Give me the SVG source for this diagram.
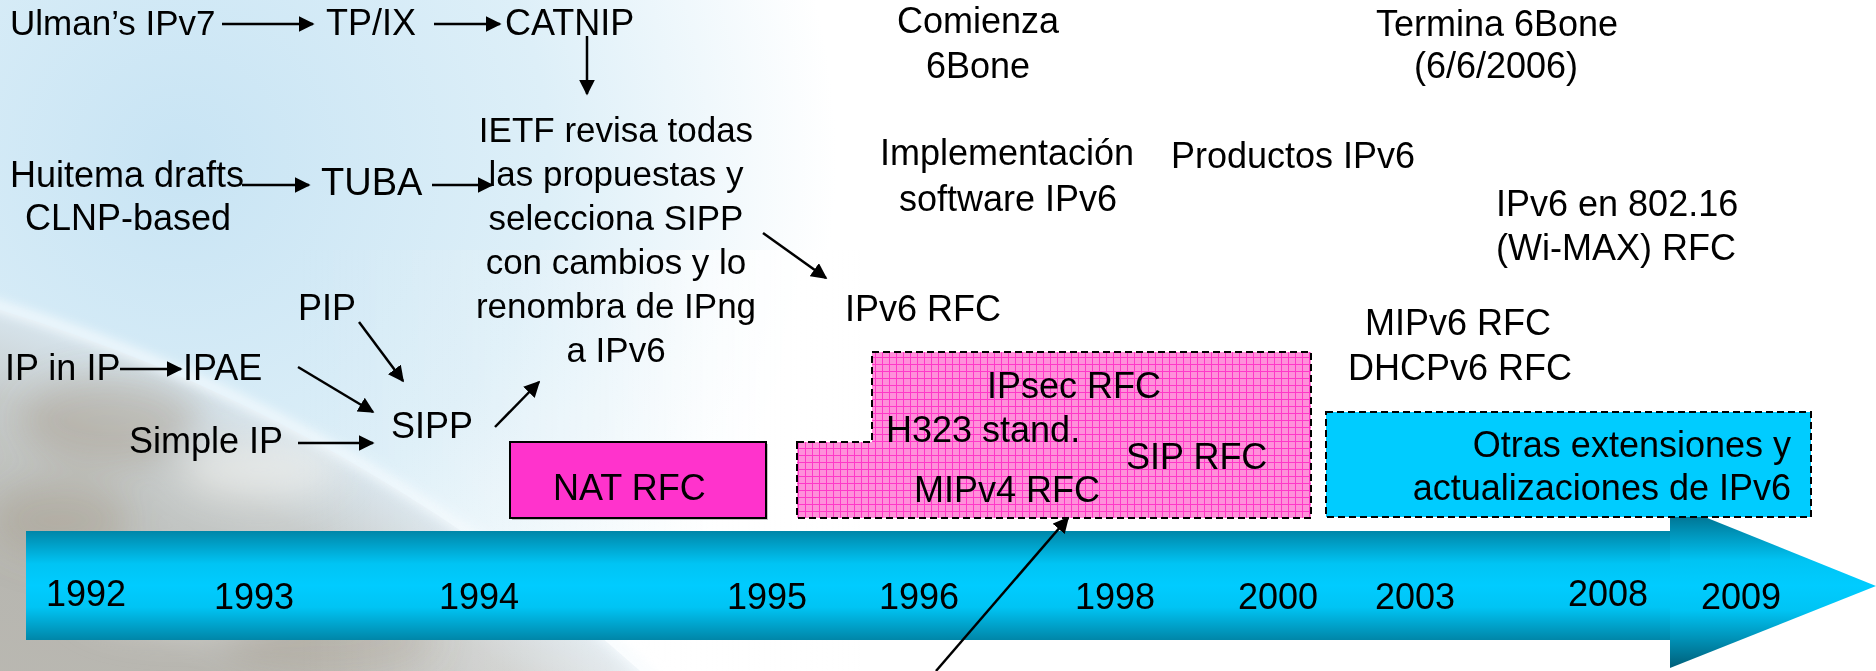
<svg xmlns="http://www.w3.org/2000/svg" width="1876" height="671" viewBox="0 0 1876 671">
<defs>
<style>
text{font-family:"Liberation Sans",Arial,sans-serif;font-size:36px;fill:#000}
.sm{font-size:35px}
.mid{text-anchor:middle}
.end{text-anchor:end}
.con{stroke:#000;stroke-width:2.5;fill:none;marker-end:url(#ah)}
.dash{stroke:#000;stroke-width:2;stroke-dasharray:7 4}
</style>
<marker id="ah" viewBox="0 0 10 10" refX="9" refY="5" markerWidth="16" markerHeight="16" markerUnits="userSpaceOnUse" orient="auto">
<path d="M0 0L10 5L0 10Z" fill="#000"/>
</marker>
<pattern id="grid" width="7" height="7" patternUnits="userSpaceOnUse">
<rect width="7" height="7" fill="#FF90DA"/>
<path d="M0 0.5H7M0.5 0V7" stroke="#FF38C8" stroke-width="1"/>
</pattern>
<linearGradient id="body" x1="0" y1="0" x2="0" y2="1">
<stop offset="0" stop-color="#0086A8"/>
<stop offset="0.3" stop-color="#00C4F4"/>
<stop offset="0.5" stop-color="#00CCFF"/>
<stop offset="0.7" stop-color="#00C4F4"/>
<stop offset="1" stop-color="#0086A8"/>
</linearGradient>
<linearGradient id="head" x1="0" y1="0" x2="0" y2="1">
<stop offset="0" stop-color="#005E78"/>
<stop offset="0.35" stop-color="#00C4F4"/>
<stop offset="0.5" stop-color="#00CCFF"/>
<stop offset="0.65" stop-color="#00C4F4"/>
<stop offset="1" stop-color="#005E78"/>
</linearGradient>
<radialGradient id="sky" cx="180" cy="160" r="820" gradientUnits="userSpaceOnUse">
<stop offset="0" stop-color="#C8E4F4"/>
<stop offset="0.45" stop-color="#DDEFF8"/>
<stop offset="0.8" stop-color="#FFFFFF"/>
<stop offset="1" stop-color="#FFFFFF"/>
</radialGradient>
<radialGradient id="earth" cx="-500" cy="1944" r="1709" gradientUnits="userSpaceOnUse">
<stop offset="0.85" stop-color="#ABA79E"/>
<stop offset="0.95" stop-color="#C2C3C0"/>
<stop offset="1" stop-color="#D8E4EC"/>
</radialGradient>
<linearGradient id="fade" x1="0" y1="0" x2="1" y2="0">
<stop offset="0" stop-color="#FFFFFF" stop-opacity="0"/>
<stop offset="0.55" stop-color="#FFFFFF" stop-opacity="0.2"/>
<stop offset="1" stop-color="#FFFFFF" stop-opacity="1"/>
</linearGradient>
<filter id="blur" x="-20%" y="-20%" width="140%" height="140%"><feGaussianBlur stdDeviation="6"/></filter>
<filter id="soft" x="-50%" y="-50%" width="200%" height="200%"><feGaussianBlur stdDeviation="18"/></filter>
<clipPath id="earthclip"><circle cx="-500" cy="1944" r="1709"/></clipPath>
</defs>

<g id="background">
<rect width="1876" height="671" fill="#FFFFFF"/>
<rect width="1000" height="671" fill="url(#sky)"/>
<circle cx="-500" cy="1944" r="1709" fill="url(#earth)" opacity="0.8"/>
<g clip-path="url(#earthclip)" filter="url(#soft)">
<ellipse cx="110" cy="420" rx="90" ry="45" fill="#8C7558" opacity="0.25"/>
<ellipse cx="60" cy="520" rx="70" ry="40" fill="#8C7558" opacity="0.22"/>
<ellipse cx="260" cy="470" rx="80" ry="30" fill="#F2F2EE" opacity="0.6"/>
<ellipse cx="330" cy="640" rx="110" ry="35" fill="#8C7558" opacity="0.2"/>
<ellipse cx="180" cy="600" rx="100" ry="30" fill="#EEEEEA" opacity="0.5"/>
</g>
<circle cx="-500" cy="1944" r="1712" fill="none" stroke="#F4FAFD" stroke-width="10" filter="url(#blur)"/>
<rect x="300" y="250" width="560" height="421" fill="url(#fade)"/>
</g>

<g id="timeline">
<rect x="26" y="531" width="1644" height="109" fill="url(#body)"/>
<path d="M1670 503L1876 586L1670 668Z" fill="url(#head)"/>
</g>

<g id="node-nat">
<rect x="512" y="444" width="256" height="76" fill="#888" opacity="0.5"/>
<rect x="510" y="442" width="256" height="76" fill="#FF33CC" stroke="#000" stroke-width="2"/>
<text x="553" y="500">NAT RFC</text>
</g>

<g id="node-pink">
<path d="M797 442H872V352H1311V518H797Z" fill="url(#grid)" class="dash"/>
<text x="987" y="398">IPsec RFC</text>
<text x="886" y="442">H323 stand.</text>
<text x="1126" y="469">SIP RFC</text>
<text x="914" y="502">MIPv4 RFC</text>
</g>

<g id="node-otras">
<rect x="1326" y="412" width="485" height="105" fill="#00CCFF" class="dash"/>
<text class="end" x="1791" y="457">Otras extensiones y</text>
<text class="end" x="1791" y="500">actualizaciones de IPv6</text>
</g>

<g id="node-ulman"><text class="sm" x="10" y="35">Ulman’s IPv7</text></g>
<g id="node-tpix"><text x="326" y="35">TP/IX</text></g>
<g id="node-catnip"><text x="505" y="35">CATNIP</text></g>
<g id="node-ietf">
<text class="mid sm" x="616" y="142">IETF revisa todas</text>
<text class="mid sm" x="616" y="186">las propuestas y</text>
<text class="mid sm" x="616" y="230">selecciona SIPP</text>
<text class="mid sm" x="616" y="274">con cambios y lo</text>
<text class="mid sm" x="616" y="318">renombra de IPng</text>
<text class="mid sm" x="616" y="362">a IPv6</text>
</g>
<g id="node-huitema">
<text class="mid" x="127" y="187">Huitema drafts</text>
<text class="mid" x="128" y="230">CLNP-based</text>
</g>
<g id="node-tuba"><text x="321" y="195" style="font-size:38px">TUBA</text></g>
<g id="node-pip"><text x="298" y="320">PIP</text></g>
<g id="node-ipinip"><text x="5" y="380">IP in IP</text></g>
<g id="node-ipae"><text x="183" y="380">IPAE</text></g>
<g id="node-sipp"><text x="391" y="438">SIPP</text></g>
<g id="node-simpleip"><text x="129" y="453">Simple IP</text></g>
<g id="node-comienza">
<text class="mid" x="978" y="33">Comienza</text>
<text class="mid" x="978" y="78">6Bone</text>
</g>
<g id="node-implementacion">
<text class="mid" x="1007" y="165">Implementación</text>
<text class="mid" x="1008" y="211">software IPv6</text>
</g>
<g id="node-ipv6rfc"><text x="845" y="321">IPv6 RFC</text></g>
<g id="node-productos"><text x="1171" y="168">Productos IPv6</text></g>
<g id="node-termina">
<text class="mid" x="1497" y="36">Termina 6Bone</text>
<text class="mid" x="1496" y="78">(6/6/2006)</text>
</g>
<g id="node-wimax">
<text x="1496" y="216">IPv6 en 802.16</text>
<text x="1496" y="260">(Wi-MAX) RFC</text>
</g>
<g id="node-mipv6">
<text x="1365" y="335">MIPv6 RFC</text>
<text x="1348" y="380">DHCPv6 RFC</text>
</g>

<g id="years">
<text x="46" y="606">1992</text>
<text x="214" y="609">1993</text>
<text x="439" y="609">1994</text>
<text x="727" y="609">1995</text>
<text x="879" y="609">1996</text>
<text x="1075" y="609">1998</text>
<text x="1238" y="609">2000</text>
<text x="1375" y="609">2003</text>
<text x="1568" y="606">2008</text>
<text x="1701" y="609">2009</text>
</g>

<g id="connectors">
<path class="con" d="M222 24H313"/>
<path class="con" d="M434 24H500"/>
<path class="con" d="M587 36V94"/>
<path class="con" d="M242 185H309"/>
<path class="con" d="M432 185H492"/>
<path class="con" d="M120 369H181"/>
<path class="con" d="M359 322L403 381"/>
<path class="con" d="M298 367L373 412"/>
<path class="con" d="M298 443H373"/>
<path class="con" d="M495 427L539 382"/>
<path class="con" d="M763 233L826 278"/>
<path class="con" d="M936 671L1068 518"/>
</g>
</svg>
